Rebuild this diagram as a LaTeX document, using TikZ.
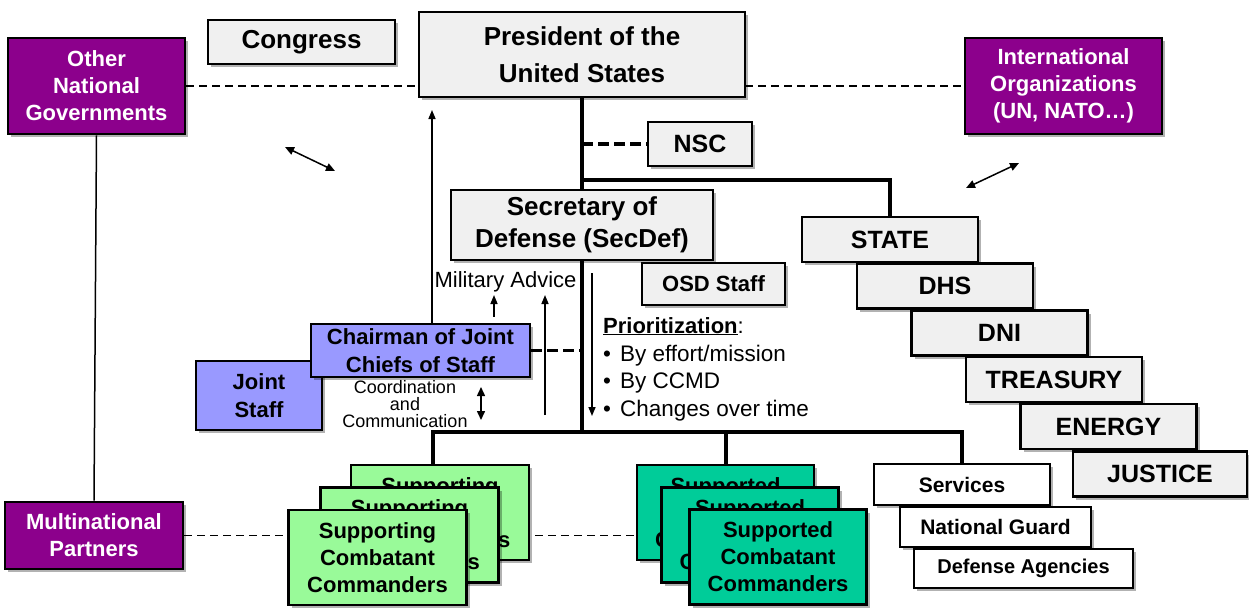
\documentclass[tikz,border=0pt]{standalone}
\usepackage{fontspec}
\setmainfont{Liberation Sans}
\usetikzlibrary{arrows.meta,shadows,backgrounds,calc}
\definecolor{purp}{RGB}{140,0,140}
\definecolor{lgray}{RGB}{240,240,240}
\definecolor{lav}{RGB}{153,153,255}
\definecolor{lgreen}{RGB}{153,250,153}
\definecolor{tealg}{RGB}{0,204,153}
\newcommand\fsz[2]{\fontsize{#1}{#2}\selectfont}
\tikzset{
  box/.style={draw=black, line width=2.7pt, rectangle, align=center, inner sep=0pt,
    drop shadow={shadow xshift=3pt, shadow yshift=-3pt, opacity=0.3, fill=black}},
  sz/.style args={#1/#2}{minimum width=#1pt, minimum height=#2pt},
  pbox/.style={box, fill=purp, text=white, font=\bfseries\fsz{22}{27}},
  gbox/.style={box, fill=lgray, font=\bfseries\fsz{25}{32}},
  lbox/.style={box, fill=lav, font=\bfseries\fsz{22}{28}},
  sgbox/.style={box, fill=lgreen, font=\bfseries\fsz{22}{27}},
  stbox/.style={box, fill=tealg, font=\bfseries\fsz{22}{27}},
  wbox/.style={box, fill=white, font=\bfseries\fsz{21}{25}},
  thinline/.style={line width=1.5pt},
  tdash/.style={line width=1.5pt, dash pattern=on 8pt off 5pt},
  kdash/.style={line width=3.5pt, dash pattern=on 11pt off 5pt},
  trunk/.style={line width=4pt},
  tip/.style={-{Triangle[length=9pt,width=7pt]}},
  dtip/.style={{Triangle[length=9pt,width=8pt]}-{Triangle[length=9pt,width=8pt]}},
}
\begin{document}
\begin{tikzpicture}[x=1pt,y=-1pt]
\useasboundingbox (0,0) rectangle (1249,614);

% top row
\node[pbox, sz=177/96] (ong) at (96.5,86) {Other\\National\\Governments};
\node[gbox, sz=187/44, font=\bfseries\fsz{26}{32}] (cong) at (301.5,42) {Congress};
\node[gbox, sz=326/85, font=\bfseries\fsz{26}{37}] (pres) at (582,54.5) {President of the\\United States};
\node[pbox, sz=197/96] (intl) at (1063.5,86) {International\\Organizations\\(UN, NATO\dots)};

\node[gbox, sz=104/44] (nsc) at (700,144) {NSC};
\node[gbox, sz=262/70, font=\bfseries\fsz{26}{32}] (secdef) at (582,225) {Secretary of\\Defense (SecDef)};
\node[gbox, sz=143/42, font=\bfseries\fsz{22}{27}] (osd) at (713.5,284) {OSD Staff};

% departments
\node[gbox, sz=176/45] (state) at (890,239.5) {STATE};
\node[gbox, sz=176/45] (dhs) at (945,286) {DHS};
\node[gbox, sz=176/45] (dni) at (999.5,333) {DNI};
\node[gbox, sz=176/45] (treas) at (1054,379.5) {TREASURY};
\node[gbox, sz=176/45] (energy) at (1108.5,426.5) {ENERGY};
\node[gbox, sz=174/45] (justice) at (1160,474) {JUSTICE};

% joint staff
\node[lbox, sz=126/69] (joint) at (259,395.5) {Joint\\Staff};
\node[lbox, sz=219/53] (cjcs) at (420.5,350.5) {Chairman of Joint\\Chiefs of Staff};

% combatant commanders
\node[sgbox, sz=178/95] (supback) at (440,512.5) {Supporting\\Combatant\\Commanders};
\node[sgbox, sz=178/95] (supmid) at (409.5,535) {Supporting\\Combatant\\Commanders};
\node[sgbox, sz=178/95] (supfront) at (377.5,557.5) {Supporting\\Combatant\\Commanders};
\node[stbox, sz=177/95] (spdback) at (725.5,512.5) {Supported\\Combatant\\Commanders};
\node[stbox, sz=177/95] (spdmid) at (750,535) {Supported\\Combatant\\Commanders};
\node[stbox, sz=177/95] (spdfront) at (778,557) {Supported\\Combatant\\Commanders};

% services
\node[wbox, sz=176/41] (serv) at (962,484.5) {Services};
\node[wbox, sz=191/40] (ng) at (995.5,527) {National Guard};
\node[wbox, sz=219/39, font=\bfseries\fsz{20}{24}] (defag) at (1023.5,568.5) {Defense Agencies};

\node[pbox, sz=178/67] (multi) at (94,535.5) {Multinational\\Partners};

% text labels
\node[anchor=base, inner sep=0pt, font=\fsz{22}{25}] (madv) at (505.5,287) {Military Advice};
\node[inner sep=0pt, align=center, font=\fsz{18}{17}] (coord) at (405,404) {Coordination\\and\\Communication};
\node[anchor=base west, inner sep=0pt, font=\fsz{22}{27}] (prio) at (603,333) {\textbf{\underline{Prioritization}}:};
\node[anchor=base west, inner sep=0pt, font=\fsz{22.5}{27}] (b1) at (603,361) {\textbullet\hspace{9pt}By effort/mission};
\node[anchor=base west, inner sep=0pt, font=\fsz{22.5}{27}] (b2) at (603,388) {\textbullet\hspace{9pt}By CCMD};
\node[anchor=base west, inner sep=0pt, font=\fsz{22.5}{27}] (b3) at (603,416) {\textbullet\hspace{9pt}Changes over time};

% coordinates for free arrow ends
\coordinate (bus) at (582,432);
\coordinate (busl) at (433,432);
\coordinate (brs) at (582,180);
\coordinate (up1) at (432,110);
\coordinate (ma1) at (494,295);
\coordinate (mb0) at (545,415);
\coordinate (mb1) at (545,295);
\coordinate (pd0) at (592,273);
\coordinate (pd1) at (592,416);
\coordinate (cc0) at (481,387);
\coordinate (cc1) at (481,420);
\coordinate (la0) at (285,147);
\coordinate (la1) at (335,171);
\coordinate (ra0) at (966,188);
\coordinate (ra1) at (1019,163);

\begin{scope}[on background layer]
  % dashed liaison lines
  \draw[tdash] (ong.east) -- (intl.west);
  \draw[tdash] (multi.east) -- (multi.east -| spdback.west);
  \draw[thinline] (ong.south) -- (multi.north);
  % main trunk
  \draw[trunk] (pres.south) -- (bus);
  \draw[trunk] (brs) -| (state.north);
  \draw[kdash] (pres.south |- nsc.west) -- (nsc.west);
  \draw[kdash] (cjcs.east) -- (cjcs.east -| bus);
  \draw[trunk] (busl |- supback.north) -- (busl) -- (bus -| serv.north) -- (serv.north);
  \draw[trunk] (bus -| spdback.north) -- (spdback.north);
  % thin arrows
  \draw[thinline, tip] (cjcs.north -| up1) -- (up1);
  \draw[thinline, tip] ($(cjcs.north -| ma1)+(0,-6)$) -- (ma1);
  \draw[thinline, tip] (mb0) -- (mb1);
  \draw[thinline, tip] (pd0) -- (pd1);
  \draw[thinline, dtip] (cc0) -- (cc1);
  \draw[thinline, dtip] (la0) -- (la1);
  \draw[thinline, dtip] (ra0) -- (ra1);
\end{scope}
\end{tikzpicture}
\end{document}
